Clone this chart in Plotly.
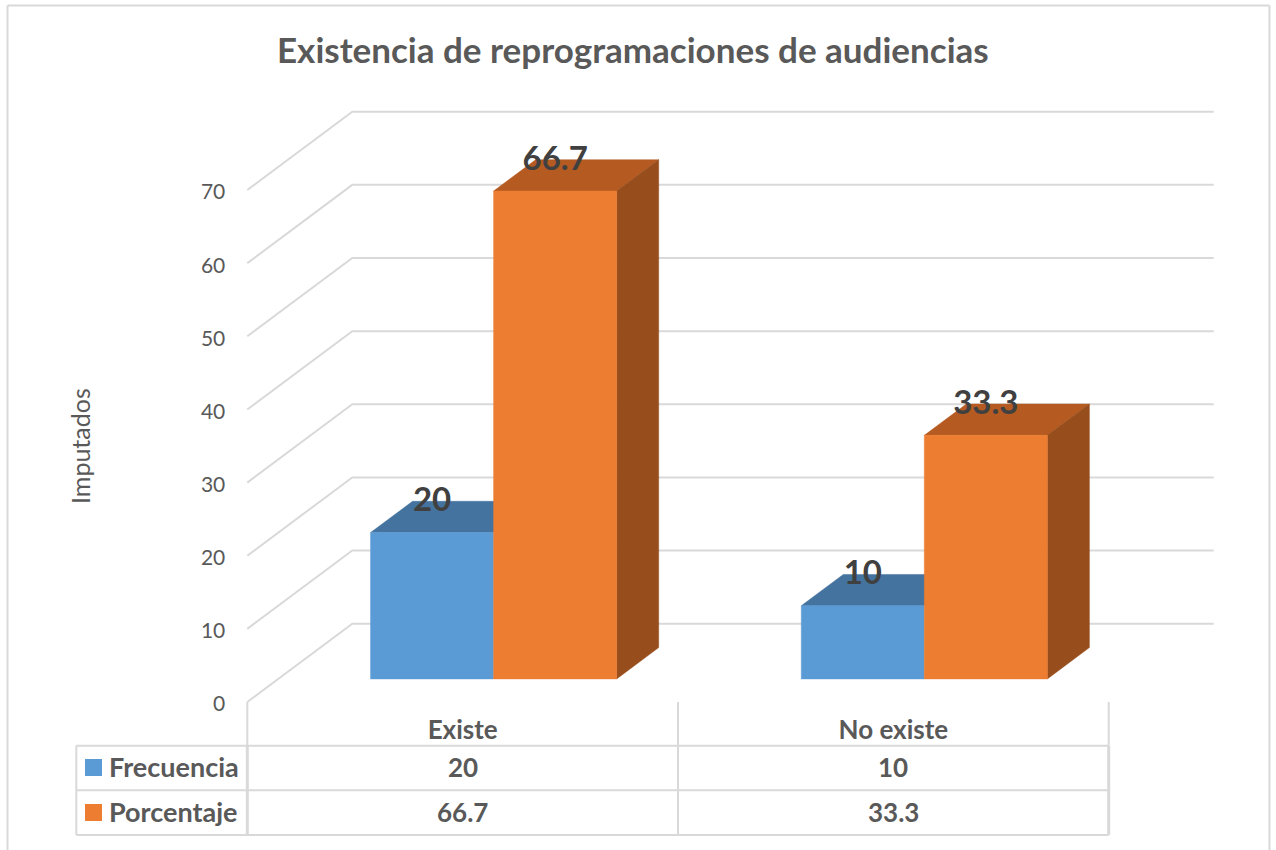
import plotly.graph_objects as go

# ---- data ----
categories = ["Existe", "No existe"]
frecuencia = [20, 10]
porcentaje = [66.7, 33.3]
y_ticks = [0, 10, 20, 30, 40, 50, 60, 70]
title_text = "Existencia de reprogramaciones de audiencias"
y_title = "Imputados"

# ---- geometry of the canvas ----
W, H = 1276, 850
X0, CAT_W = 247.3, 430.7      # px of category 0 start, px per category
Y0, UNIT = 702.0, 7.314       # px of value 0 on the front plane, px per unit
DEPTH_X, DEPTH_Y = 105.0 / CAT_W, 78.3 / UNIT  # floor depth in data units
BAR_D0, BAR_D1 = 0.295, 0.695  # front and back of bars along the depth
GAP, BAR_W = 0.2143, 0.2857
LABEL_LIFT = 29.8 / UNIT

GRID = "#D9D9D9"
TEXT = "#595959"
FONT = "Lato"
BLUE = dict(front="#5B9BD5", top="#44739F")
ORANGE = dict(front="#ED7D31", top="#B55B22", side="#974D1C")


def proj(x, v, d):
    return x + d * DEPTH_X, v + d * DEPTH_Y


def px_x(px):
    return px / W


def px_y(py):
    return 1 - py / H


def poly(fig, pts, color, name):
    fig.add_trace(go.Scatter(
        x=[p[0] for p in pts] + [pts[0][0]],
        y=[p[1] for p in pts] + [pts[0][1]],
        mode="lines", fill="toself", fillcolor=color,
        line=dict(color=color, width=0.5),
        name=name, showlegend=False, hoverinfo="skip"))


def bar(fig, x, w, v, colors, name, side=False):
    a, b = BAR_D0, BAR_D1
    poly(fig, [proj(x, v, a), proj(x + w, v, a), proj(x + w, v, b), proj(x, v, b)],
         colors["top"], name)
    if side:
        poly(fig, [proj(x + w, 0, a), proj(x + w, 0, b), proj(x + w, v, b), proj(x + w, v, a)],
             colors["side"], name)
    poly(fig, [proj(x, 0, a), proj(x + w, 0, a), proj(x + w, v, a), proj(x, v, a)],
         colors["front"], name)


fig = go.Figure()

# gridlines: left wall and back wall
for t in y_ticks:
    xs, ys = zip(proj(0, t, 0), proj(0, t, 1), proj(2, t, 1))
    fig.add_trace(go.Scatter(x=list(xs), y=list(ys), mode="lines",
                             line=dict(color=GRID, width=2),
                             showlegend=False, hoverinfo="skip"))

# bars
for i, (f, p) in enumerate(zip(frecuencia, porcentaje)):
    bar(fig, i + GAP, BAR_W, f, BLUE, "Frecuencia")
    bar(fig, i + GAP + BAR_W, BAR_W, p, ORANGE, "Porcentaje", side=True)

# data labels
lab_x, lab_y, lab_t = [], [], []
for i, (f, p) in enumerate(zip(frecuencia, porcentaje)):
    for k, v in enumerate((f, p)):
        cx, cy = proj(i + GAP + BAR_W * (k + 0.5), v, BAR_D0)
        lab_x.append(cx)
        lab_y.append(cy + LABEL_LIFT)
        lab_t.append(str(v))
fig.add_trace(go.Scatter(x=lab_x, y=lab_y, text=lab_t, mode="text",
                         textposition="middle center",
                         textfont=dict(family=FONT, size=33, color="#404040", weight="bold"),
                         showlegend=False, hoverinfo="skip"))

shapes = []


def line(x0, y0, x1, y1, width=2):
    shapes.append(dict(type="line", xref="paper", yref="paper",
                       x0=px_x(x0), x1=px_x(x1), y0=px_y(y0), y1=px_y(y1),
                       line=dict(color=GRID, width=width)))


# outer frame (open at the bottom of the picture)
line(7.5, 5.5, 1269.5, 5.5)
line(7.5, 5.5, 7.5, 850)
line(1269.5, 5.5, 1269.5, 850)

# data table grid
TBL_L, TBL_M, TBL_C, TBL_R = 76.3, X0, X0 + CAT_W, X0 + 2 * CAT_W
ROW_A, ROW_B, ROW_C = 745.7, 790.3, 835
for yy in (ROW_A, ROW_B, ROW_C):
    line(TBL_L, yy, TBL_R, yy)
line(TBL_L, ROW_A, TBL_L, ROW_C)
line(TBL_M, Y0, TBL_M, ROW_A)
line(TBL_M, ROW_A, TBL_M, ROW_C, 3)
line(TBL_C, Y0, TBL_C, ROW_C)
line(TBL_R, Y0, TBL_R, ROW_A)
line(TBL_R, ROW_A, TBL_R, ROW_C, 3)

# legend keys in the table
for y0, y1, col in ((759, 776, BLUE["front"]), (804, 821, ORANGE["front"])):
    shapes.append(dict(type="rect", xref="paper", yref="paper",
                       x0=px_x(85), x1=px_x(102), y0=px_y(y0), y1=px_y(y1),
                       fillcolor=col, line=dict(width=0)))

annotations = []


def note(text, x, y, size, bold=True, anchor="center", angle=0, color=TEXT):
    annotations.append(dict(text=text, xref="paper", yref="paper",
                            x=px_x(x), y=px_y(y), xanchor=anchor, yanchor="middle",
                            textangle=angle, showarrow=False,
                            font=dict(family=FONT, size=size, color=color,
                                      weight="bold" if bold else "normal")))


note(title_text, 633, 49, 35)
note(y_title, 80, 446, 25, bold=False, angle=-90)
note("Frecuencia", 107, 766, 27, anchor="left")
note("Porcentaje", 107, 811, 27, anchor="left")
for i, (f, p) in enumerate(zip(frecuencia, porcentaje)):
    cx = X0 + CAT_W * (i + 0.5)
    note(str(f), cx, 767, 26)
    note(str(p), cx, 812, 26)

fig.update_layout(
    width=W, height=H, autosize=False,
    margin=dict(l=0, r=0, t=0, b=0),
    paper_bgcolor="white", plot_bgcolor="white",
    showlegend=False, shapes=shapes, annotations=annotations,
    xaxis=dict(range=[-X0 / CAT_W, (W - X0) / CAT_W], domain=[0, 1],
               tickvals=[0.5, 1.5], ticktext=categories,
               anchor="free", position=px_y(Y0), ticklabelposition="outside",
               ticks="", ticklabelstandoff=10,
               showgrid=False, zeroline=False, showline=False, fixedrange=True,
               tickfont=dict(family=FONT, size=26, color=TEXT, weight="bold")),
    yaxis=dict(range=[(Y0 - H) / UNIT, Y0 / UNIT], domain=[0, 1],
               tickvals=y_ticks, ticktext=[str(t) for t in y_ticks],
               anchor="free", position=px_x(X0),
               ticks="", ticklabelstandoff=22, ticklabelshift=2,
               showgrid=False, zeroline=False, showline=False, fixedrange=True,
               tickfont=dict(family=FONT, size=21, color=TEXT)),
)

fig.write_html("out.html",
               post_script="document.body.style.margin='0';document.documentElement.style.overflow='hidden';",
               config=dict(displayModeBar=False))
